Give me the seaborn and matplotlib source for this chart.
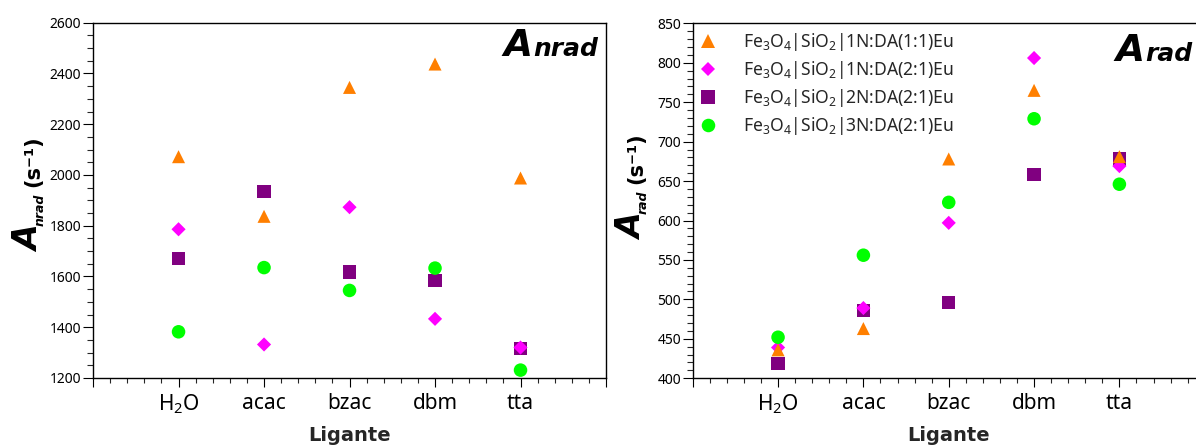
import numpy as np
import pandas as pd
import matplotlib
matplotlib.use("Agg")
import matplotlib.pyplot as plt
from matplotlib.ticker import MultipleLocator, FixedLocator
import seaborn as sns

# ---- data -------------------------------------------------------------
ligands = ["H2O", "acac", "bzac", "dbm", "tta"]
ligand_labels = ["H$_2$O", "acac", "bzac", "dbm", "tta"]

samples = [
    r"Fe$_3$O$_4$|SiO$_2$|1N:DA(1:1)Eu",
    r"Fe$_3$O$_4$|SiO$_2$|1N:DA(2:1)Eu",
    r"Fe$_3$O$_4$|SiO$_2$|2N:DA(2:1)Eu",
    r"Fe$_3$O$_4$|SiO$_2$|3N:DA(2:1)Eu",
]

# non-radiative rates A_nrad (s^-1)
a_nrad_1n_11 = [2072, 1837, 2345, 2437, 1988]
a_nrad_1n_21 = [1786, 1332, 1873, 1433, 1320]
a_nrad_2n_21 = [1670, 1936, 1618, 1584, 1316]
a_nrad_3n_21 = [1382, 1635, 1545, 1633, 1231]

# radiative rates A_rad (s^-1)
a_rad_1n_11 = [436, 463, 678, 765, 681]
a_rad_1n_21 = [439, 489, 597, 806, 669]
a_rad_2n_21 = [419, 486, 496, 658, 678]
a_rad_3n_21 = [452, 556, 623, 729, 646]

# ---- styling ----------------------------------------------------------
sns.set_style("ticks")
plt.rcParams["font.family"] = ["Noto Sans", "DejaVu Sans"]
plt.rcParams["mathtext.fontset"] = "custom"
plt.rcParams["mathtext.rm"] = "Noto Sans"
plt.rcParams["mathtext.it"] = "Noto Sans:italic"
plt.rcParams["mathtext.bf"] = "DejaVu Sans:bold"

palette = dict(zip(samples, ["#FF7F00", "#FF00FF", "#800080", "#00FF00"]))
markers = dict(zip(samples, ["^", "D", "s", "o"]))
sizes = dict(zip(samples, [88, 52, 92, 95]))
# squares first, circles last so overlapping points stack the same way
draw_order = [samples[2], samples[1], samples[0], samples[3]]


def long_table(series):
    rows = []
    for name in draw_order:
        vals = series[name]
        for i, lig in enumerate(ligands):
            rows.append({"pos": i + 1, "ligand": lig, "sample": name, "value": vals[i]})
    return pd.DataFrame(rows)


nrad = long_table(dict(zip(samples, [a_nrad_1n_11, a_nrad_1n_21, a_nrad_2n_21, a_nrad_3n_21])))
rad = long_table(dict(zip(samples, [a_rad_1n_11, a_rad_1n_21, a_rad_2n_21, a_rad_3n_21])))

fig = plt.figure(figsize=(11.96, 4.45), dpi=100)
ax1 = fig.add_axes([0.0778, 0.1506, 0.4289, 0.7984])
ax2 = fig.add_axes([0.5792, 0.1500, 0.4281, 0.7976])

for ax, df, show_legend in [(ax1, nrad, False), (ax2, rad, True)]:
    sns.scatterplot(
        data=df, x="pos", y="value", hue="sample", style="sample", size="sample",
        hue_order=samples, style_order=samples, size_order=samples,
        palette=palette, markers=markers, sizes=sizes,
        linewidth=0, ax=ax, legend="full" if show_legend else False,
    )

BOLD = ["DejaVu Sans"]
bold_it = dict(family=BOLD, fontweight="bold", fontstyle="oblique", color="black")


def format_axis(ax, ylim, ymajor, yminor):
    ax.set_xlim(0, 6)
    ax.set_ylim(*ylim)
    ax.xaxis.set_major_locator(FixedLocator(range(0, 7)))
    ax.set_xticklabels([""] + ligand_labels + [""])
    ax.xaxis.set_minor_locator(MultipleLocator(0.2))
    ax.yaxis.set_major_locator(MultipleLocator(ymajor))
    ax.yaxis.set_minor_locator(MultipleLocator(yminor))
    ax.tick_params(axis="y", which="major", direction="out", length=7, width=0.8,
                   labelsize=10, pad=1.5, colors="black")
    ax.tick_params(axis="y", which="minor", direction="out", length=4, width=0.8)
    ax.tick_params(axis="x", which="major", direction="out", length=6.5, width=0.8,
                   labelsize=15, pad=4, colors="black")
    ax.tick_params(axis="x", which="minor", direction="out", length=3.5, width=0.8)
    for s in ax.spines.values():
        s.set_visible(True)
        s.set_linewidth(1.0)
        s.set_color("black")
    ax.set_xlabel("Ligante", fontsize=14, fontweight="bold", family=BOLD, labelpad=7)
    ax.set_ylabel("")


format_axis(ax1, (1200, 2600), 200, 50)
format_axis(ax2, (400, 850), 50, 10)


def corner_title(ax, sub, x, y):
    t_sub = ax.text(x, y, sub, transform=ax.transAxes, ha="right", va="baseline",
                    fontsize=18, **bold_it)
    ax.annotate("A", xy=(0, y), xycoords=(t_sub, "axes fraction"), ha="right",
                va="baseline", fontsize=27, **bold_it)


corner_title(ax1, "nrad", 0.984, 0.906)
corner_title(ax2, "rad", 0.975, 0.895)


def rate_label(ax, sub, x, y):
    t_a = ax.text(x, y, "A", transform=ax.transAxes, rotation=90, rotation_mode="anchor",
                  ha="left", va="baseline", fontsize=24, **bold_it)
    t_sub = ax.annotate(sub, xy=(x, 1), xycoords=("axes fraction", t_a), xytext=(3, 0),
                        textcoords="offset points", rotation=90, rotation_mode="anchor",
                        ha="left", va="baseline", fontsize=9, **bold_it)
    ax.annotate("(s\u207b\u00b9)", xy=(x, 1), xycoords=("axes fraction", t_sub),
                xytext=(0, 5), textcoords="offset points", rotation=90,
                rotation_mode="anchor", ha="left", va="baseline", fontsize=15,
                fontweight="bold", family=BOLD, color="black")


rate_label(ax1, "nrad", -0.105, 0.355)
rate_label(ax2, "rad", -0.099, 0.39)

# legend inside the radiative panel
old = ax2.get_legend()
handles = old.legend_handles
labels = [t.get_text() for t in old.get_texts()]
old.remove()
ax2.legend(handles, labels, loc="upper left", bbox_to_anchor=(-0.012, 1.012),
           frameon=False, fontsize=12.6, handletextpad=1.5, labelspacing=0.33,
           borderaxespad=0.3, handlelength=1.0)

fig.savefig("out.png", dpi=100)
